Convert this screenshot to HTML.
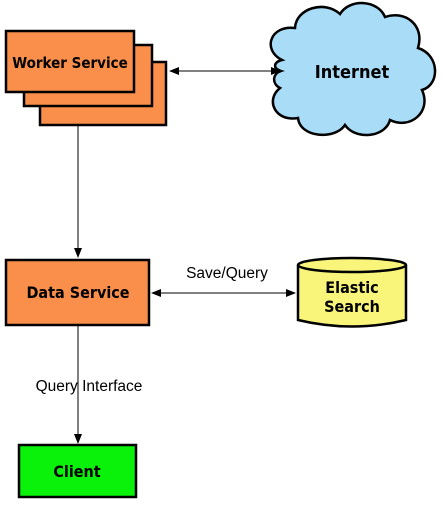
<!DOCTYPE html>
<html><head><style>
body{margin:0;width:442px;height:506px;background:#fff;overflow:hidden}
</style></head><body>
<svg width="442" height="506" xmlns="http://www.w3.org/2000/svg">
<defs>
<marker id="a" markerWidth="10" markerHeight="8" refX="9" refY="4" orient="auto-start-reverse" markerUnits="userSpaceOnUse"><path d="M0,0 L10,4 L0,8 z" fill="#000"/></marker>
</defs>
<g stroke="#000" stroke-width="2.5" fill="#f98f4b">
<rect x="40" y="62" width="126" height="63"/>
<rect x="24" y="45" width="128" height="61"/>
<rect x="6" y="31" width="128" height="61"/>
</g>
<text x="70" y="68" font-size="15" text-anchor="middle" font-family="DejaVu Sans Condensed,sans-serif" font-weight="bold">Worker Service</text>
<path d="M282,60 C262,50 270,25 295,28 C296,8 325,0 340,14 C350,-2 378,0 385,17 C405,10 425,25 418,48 C440,55 440,85 422,90 C432,112 410,130 390,120 C385,138 355,140 345,125 C335,140 300,138 298,118 C275,122 265,100 280,88 C272,84 272,74 281,71 C272,68 274,62 282,60 Z" fill="#a9dcf7" stroke="#000" stroke-width="2.5"/>
<line x1="170" y1="71" x2="280" y2="71" stroke="#000" stroke-width="1" marker-start="url(#a)" marker-end="url(#a)"/>
<text x="352" y="78" font-size="18" text-anchor="middle" font-family="DejaVu Sans Condensed,sans-serif" font-weight="bold">Internet</text>
<line x1="78" y1="125" x2="78" y2="257" stroke="#000" stroke-width="1" marker-end="url(#a)"/>
<rect x="6" y="260" width="143" height="65" fill="#f98f4b" stroke="#000" stroke-width="2.5"/>
<text x="78" y="298" font-size="16" text-anchor="middle" font-family="DejaVu Sans Condensed,sans-serif" font-weight="bold">Data Service</text>
<line x1="152" y1="293" x2="295" y2="293" stroke="#000" stroke-width="1" marker-start="url(#a)" marker-end="url(#a)"/>
<text x="227" y="278" font-size="15.5" text-anchor="middle" font-family="Liberation Sans,sans-serif">Save/Query</text>
<path d="M298,265 L298,320 Q352,333 406,320 L406,265" fill="#f9f47a" stroke="#000" stroke-width="2.5"/>
<ellipse cx="352" cy="265" rx="54" ry="7" fill="#f9f47a" stroke="#000" stroke-width="2.5"/>
<text x="352" y="293" font-size="16" text-anchor="middle" font-family="DejaVu Sans Condensed,sans-serif" font-weight="bold">Elastic</text>
<text x="352" y="312" font-size="16" text-anchor="middle" font-family="DejaVu Sans Condensed,sans-serif" font-weight="bold">Search</text>
<line x1="78" y1="325" x2="78" y2="443" stroke="#000" stroke-width="1" marker-end="url(#a)"/>
<text x="89" y="391" font-size="15.5" text-anchor="middle" font-family="Liberation Sans,sans-serif">Query Interface</text>
<rect x="19" y="445" width="117" height="52" fill="#0af20a" stroke="#000" stroke-width="2.5"/>
<text x="77" y="477" font-size="16" text-anchor="middle" font-family="DejaVu Sans Condensed,sans-serif" font-weight="bold">Client</text>
</svg>
</body></html>
